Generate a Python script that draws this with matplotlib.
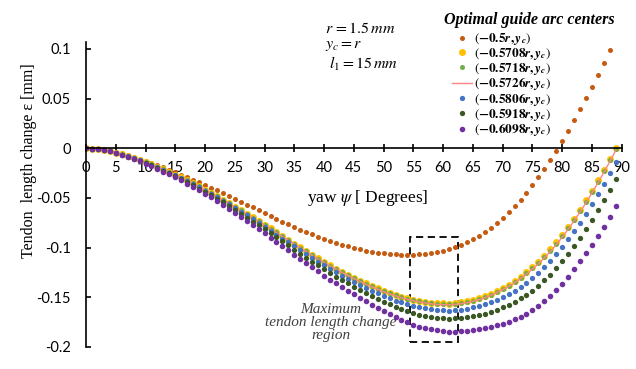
import matplotlib
matplotlib.use("Agg")
import matplotlib.pyplot as plt
from matplotlib.lines import Line2D
from matplotlib.patches import Rectangle

plt.rcParams['font.family'] = ['Lato', 'DejaVu Sans']
plt.rcParams['mathtext.fontset'] = 'stix'
plt.rcParams['axes.unicode_minus'] = False

# yaw angle in degrees, one point per degree
yaw = list(range(90))

# tendon length change [mm] for each guide arc centre
eps_0500 = [0.0000, -0.0001, -0.0004, -0.0010, -0.0020, -0.0033, -0.0048, -0.0065, -0.0083, -0.0103,
            -0.0124, -0.0146, -0.0168, -0.0191, -0.0215, -0.0239, -0.0264, -0.0289, -0.0315, -0.0341,
            -0.0368, -0.0395, -0.0423, -0.0451, -0.0479, -0.0508, -0.0537, -0.0566, -0.0595, -0.0624,
            -0.0653, -0.0682, -0.0710, -0.0738, -0.0765, -0.0792, -0.0818, -0.0843, -0.0867, -0.0890,
            -0.0912, -0.0933, -0.0953, -0.0971, -0.0988, -0.1003, -0.1017, -0.1029, -0.1040, -0.1049,
            -0.1057, -0.1063, -0.1067, -0.1070, -0.1071, -0.1070, -0.1067, -0.1062, -0.1054, -0.1044,
            -0.1031, -0.1015, -0.0996, -0.0973, -0.0946, -0.0915, -0.0880, -0.0841, -0.0798, -0.0751,
            -0.0700, -0.0645, -0.0585, -0.0519, -0.0448, -0.0372, -0.0292, -0.0207, -0.0118, -0.0024,
            0.0074, 0.0176, 0.0282, 0.0392, 0.0505, 0.0621, 0.0740, 0.0862, 0.0987, 0.1115]

eps_05708 = [0.0000, -0.0002, -0.0008, -0.0017, -0.0030, -0.0045, -0.0062, -0.0080, -0.0099, -0.0119,
             -0.0140, -0.0163, -0.0187, -0.0212, -0.0238, -0.0265, -0.0293, -0.0322, -0.0352, -0.0383,
             -0.0415, -0.0448, -0.0482, -0.0516, -0.0551, -0.0586, -0.0622, -0.0658, -0.0695, -0.0732,
             -0.0769, -0.0807, -0.0845, -0.0883, -0.0921, -0.0959, -0.0997, -0.1035, -0.1072, -0.1108,
             -0.1143, -0.1177, -0.1210, -0.1242, -0.1273, -0.1303, -0.1332, -0.1360, -0.1386, -0.1410,
             -0.1433, -0.1455, -0.1475, -0.1493, -0.1509, -0.1523, -0.1535, -0.1545, -0.1553, -0.1559,
             -0.1562, -0.1563, -0.1559, -0.1551, -0.1540, -0.1526, -0.1509, -0.1489, -0.1465, -0.1438,
             -0.1407, -0.1373, -0.1335, -0.1293, -0.1247, -0.1197, -0.1142, -0.1082, -0.1017, -0.0947,
             -0.0872, -0.0792, -0.0707, -0.0617, -0.0523, -0.0425, -0.0323, -0.0217, -0.0107, 0.0007]

eps_05718 = [0.0000, -0.0002, -0.0008, -0.0017, -0.0030, -0.0045, -0.0062, -0.0080, -0.0099, -0.0119,
             -0.0140, -0.0163, -0.0187, -0.0212, -0.0238, -0.0266, -0.0294, -0.0323, -0.0353, -0.0384,
             -0.0416, -0.0449, -0.0483, -0.0517, -0.0552, -0.0588, -0.0624, -0.0660, -0.0697, -0.0734,
             -0.0771, -0.0809, -0.0847, -0.0886, -0.0924, -0.0962, -0.1000, -0.1038, -0.1075, -0.1111,
             -0.1147, -0.1181, -0.1214, -0.1246, -0.1277, -0.1307, -0.1336, -0.1365, -0.1391, -0.1415,
             -0.1438, -0.1461, -0.1481, -0.1499, -0.1515, -0.1530, -0.1542, -0.1552, -0.1560, -0.1566,
             -0.1569, -0.1570, -0.1566, -0.1559, -0.1548, -0.1534, -0.1517, -0.1497, -0.1474, -0.1447,
             -0.1416, -0.1383, -0.1345, -0.1303, -0.1258, -0.1208, -0.1154, -0.1094, -0.1029, -0.0960,
             -0.0885, -0.0805, -0.0720, -0.0631, -0.0537, -0.0439, -0.0338, -0.0232, -0.0122, -0.0008]

eps_05726 = [0.0000, -0.0002, -0.0008, -0.0017, -0.0030, -0.0045, -0.0062, -0.0080, -0.0099, -0.0119,
             -0.0141, -0.0164, -0.0188, -0.0213, -0.0239, -0.0266, -0.0294, -0.0324, -0.0354, -0.0385,
             -0.0417, -0.0450, -0.0484, -0.0518, -0.0554, -0.0589, -0.0625, -0.0661, -0.0699, -0.0736,
             -0.0773, -0.0811, -0.0849, -0.0888, -0.0926, -0.0964, -0.1002, -0.1041, -0.1078, -0.1114,
             -0.1149, -0.1184, -0.1217, -0.1249, -0.1280, -0.1311, -0.1340, -0.1368, -0.1395, -0.1419,
             -0.1443, -0.1465, -0.1485, -0.1504, -0.1520, -0.1535, -0.1547, -0.1557, -0.1565, -0.1572,
             -0.1575, -0.1576, -0.1572, -0.1564, -0.1554, -0.1540, -0.1523, -0.1504, -0.1480, -0.1454,
             -0.1423, -0.1390, -0.1353, -0.1312, -0.1266, -0.1217, -0.1163, -0.1103, -0.1039, -0.0969,
             -0.0895, -0.0815, -0.0730, -0.0641, -0.0548, -0.0450, -0.0349, -0.0243, -0.0134, -0.0020]

eps_05806 = [0.0000, -0.0002, -0.0008, -0.0017, -0.0031, -0.0046, -0.0064, -0.0082, -0.0102, -0.0122,
             -0.0144, -0.0167, -0.0192, -0.0218, -0.0244, -0.0272, -0.0301, -0.0331, -0.0361, -0.0393,
             -0.0426, -0.0460, -0.0494, -0.0529, -0.0565, -0.0602, -0.0639, -0.0676, -0.0714, -0.0753,
             -0.0791, -0.0830, -0.0869, -0.0908, -0.0948, -0.0987, -0.1026, -0.1065, -0.1104, -0.1141,
             -0.1178, -0.1213, -0.1247, -0.1281, -0.1313, -0.1344, -0.1375, -0.1405, -0.1433, -0.1460,
             -0.1485, -0.1509, -0.1532, -0.1552, -0.1570, -0.1586, -0.1600, -0.1611, -0.1621, -0.1628,
             -0.1632, -0.1633, -0.1631, -0.1624, -0.1615, -0.1602, -0.1587, -0.1570, -0.1549, -0.1524,
             -0.1497, -0.1466, -0.1432, -0.1394, -0.1352, -0.1306, -0.1254, -0.1197, -0.1135, -0.1067,
             -0.0995, -0.0917, -0.0834, -0.0747, -0.0657, -0.0562, -0.0463, -0.0360, -0.0252, -0.0141]

eps_05918 = [0.0000, -0.0002, -0.0008, -0.0018, -0.0031, -0.0048, -0.0066, -0.0085, -0.0105, -0.0126,
             -0.0148, -0.0172, -0.0197, -0.0224, -0.0252, -0.0280, -0.0310, -0.0340, -0.0372, -0.0405,
             -0.0438, -0.0473, -0.0509, -0.0545, -0.0582, -0.0620, -0.0658, -0.0697, -0.0737, -0.0776,
             -0.0816, -0.0856, -0.0897, -0.0938, -0.0978, -0.1019, -0.1060, -0.1100, -0.1140, -0.1179,
             -0.1218, -0.1255, -0.1291, -0.1325, -0.1359, -0.1392, -0.1425, -0.1457, -0.1488, -0.1517,
             -0.1545, -0.1572, -0.1597, -0.1620, -0.1641, -0.1659, -0.1675, -0.1688, -0.1699, -0.1707,
             -0.1712, -0.1715, -0.1713, -0.1709, -0.1701, -0.1690, -0.1678, -0.1663, -0.1645, -0.1624,
             -0.1600, -0.1574, -0.1544, -0.1511, -0.1473, -0.1432, -0.1384, -0.1330, -0.1271, -0.1207,
             -0.1137, -0.1062, -0.0982, -0.0898, -0.0811, -0.0721, -0.0625, -0.0525, -0.0421, -0.0312]

eps_06098 = [0.0000, -0.0002, -0.0008, -0.0018, -0.0032, -0.0050, -0.0069, -0.0089, -0.0110, -0.0132,
             -0.0155, -0.0180, -0.0206, -0.0234, -0.0263, -0.0293, -0.0324, -0.0356, -0.0389, -0.0423,
             -0.0458, -0.0494, -0.0531, -0.0569, -0.0608, -0.0648, -0.0689, -0.0730, -0.0772, -0.0814,
             -0.0856, -0.0898, -0.0941, -0.0984, -0.1027, -0.1070, -0.1113, -0.1156, -0.1198, -0.1240,
             -0.1281, -0.1321, -0.1359, -0.1396, -0.1432, -0.1468, -0.1504, -0.1539, -0.1574, -0.1608,
             -0.1641, -0.1672, -0.1701, -0.1728, -0.1753, -0.1775, -0.1794, -0.1810, -0.1823, -0.1833,
             -0.1840, -0.1844, -0.1845, -0.1843, -0.1838, -0.1830, -0.1822, -0.1812, -0.1799, -0.1783,
             -0.1765, -0.1745, -0.1722, -0.1696, -0.1666, -0.1632, -0.1590, -0.1542, -0.1488, -0.1428,
             -0.1362, -0.1291, -0.1216, -0.1138, -0.1057, -0.0973, -0.0883, -0.0788, -0.0688, -0.0584]

labels = [r"$(\mathbf{-0.5}\mathbfit{r}\mathbf{,}\,\mathbfit{y}_{\mathbfit{c}})$",
          r"$(\mathbf{-0.5708}\mathbfit{r}\mathbf{,}\,\mathbfit{y}_{\mathbfit{c}})$",
          r"$(\mathbf{-0.5718}\mathbfit{r}\mathbf{,}\,\mathbfit{y}_{\mathbfit{c}})$",
          r"$(\mathbf{-0.5726}\mathbfit{r}\mathbf{,}\,\mathbfit{y}_{\mathbfit{c}})$",
          r"$(\mathbf{-0.5806}\mathbfit{r}\mathbf{,}\,\mathbfit{y}_{\mathbfit{c}})$",
          r"$(\mathbf{-0.5918}\mathbfit{r}\mathbf{,}\,\mathbfit{y}_{\mathbfit{c}})$",
          r"$(\mathbf{-0.6098}\mathbfit{r}\mathbf{,}\,\mathbfit{y}_{\mathbfit{c}})$"]

x_ticks = list(range(0, 91, 5))
y_ticks = [-0.2, -0.15, -0.1, -0.05, 0, 0.05, 0.1]
y_tick_labels = ["-0.2", "-0.15", "-0.1", "-0.05", "0", "0.05", "0.1"]

all_series = [eps_0500, eps_05708, eps_05718, eps_05726, eps_05806, eps_05918, eps_06098]
colors = ["#C55A11", "#FFC000", "#70AD47", "#FF8585", "#4472C4", "#385723", "#7030A0"]
sizes = [3.6, 5.0, 3.6, 0, 3.8, 3.8, 4.0]

fig = plt.figure(figsize=(6.36, 3.69), dpi=100)
ax = fig.add_axes([86 / 636, 22 / 369, 535.7 / 636, 305 / 369])

handles = []
for vals, col, ms in zip(all_series, colors, sizes):
    if ms == 0:
        ax.plot(yaw, vals, color=col, lw=1.0)
        handles.append(Line2D([], [], color=col, lw=1.0))
    else:
        ax.plot(yaw, vals, ls='none', marker='o', ms=ms, color=col, mec='none')
        handles.append(Line2D([], [], ls='none', marker='o', ms=ms, color=col, mec='none'))

ax.set_xlim(0, 90)
ax.set_ylim(-0.2, 0.107)
ax.spines['top'].set_visible(False)
ax.spines['right'].set_visible(False)
ax.spines['bottom'].set_position(('data', 0))
for s in ['left', 'bottom']:
    ax.spines[s].set_linewidth(1.2)

ax.set_xticks(x_ticks)
ax.set_xticklabels([str(t) for t in x_ticks])
ax.set_yticks(y_ticks)
ax.set_yticklabels(y_tick_labels)
ax.tick_params(axis='x', direction='inout', length=6, width=1.2, pad=6, labelsize=10.5)
ax.tick_params(axis='y', direction='in', length=3.5, width=1.2, pad=11, labelsize=10.5)

# highlighted region around the minimum
box_x0, box_x1 = 54.4, 62.55
box_y0, box_y1 = -0.195, -0.0893
ax.add_patch(Rectangle((box_x0, box_y0), box_x1 - box_x0, box_y1 - box_y0,
                       fill=False, ls=(0, (4, 2.5)), lw=1.3, ec='black'))

fig.text(29 / 636, 0.566, "Tendon  length change ε [mm]", rotation=90,
         ha='center', va='center', family='Liberation Serif', fontsize=11.5)
fig.text(368 / 636, 0.463, r"yaw $\psi$ [ Degrees]", ha='center', va='center',
         family='Liberation Serif', fontsize=12.5)

fig.text(325 / 636, 0.923, r"$r\,=1.5\,mm$", ha='left', va='center', fontsize=11.5)
fig.text(325 / 636, 0.875, r"$y_c=r$", ha='left', va='center', fontsize=11.5)
fig.text(329 / 636, 0.828, r"$l_1=15\,mm$", ha='left', va='center', fontsize=11.5)

fig.text(331 / 636, 0.125, "Maximum\ntendon length change\nregion", ha='center', va='center',
         multialignment='center', family='Liberation Serif', style='italic',
         fontsize=11, color='#404040', linespacing=1.0)

fig.text(529 / 636, 0.945, "Optimal guide arc centers", ha='center', va='center',
         family='Liberation Serif', weight='bold', style='italic', fontsize=11.5)

fig.legend(handles, labels, loc='upper left', bbox_to_anchor=(452 / 636, 0.915),
           frameon=False, fontsize=9.5, handlelength=1.5, handletextpad=0.2,
           labelspacing=-0.1, borderpad=0, borderaxespad=0)

fig.savefig("out.png", dpi=100)
